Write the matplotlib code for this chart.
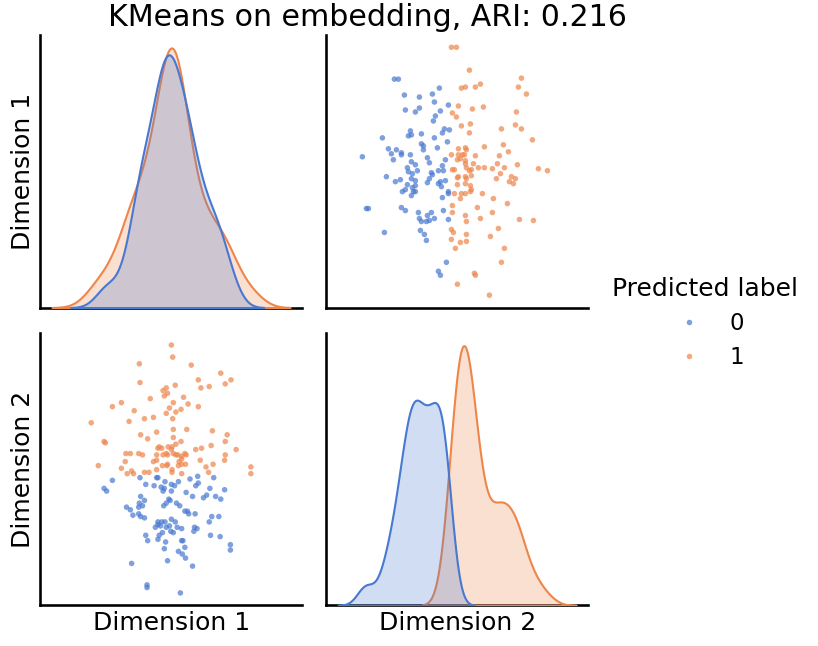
import matplotlib
matplotlib.use("Agg")
import matplotlib.pyplot as plt
import pandas as pd
import seaborn as sns

# points (arbitrary units, no ticks shown)
dim2_label0 = [93, 97, 138, 103, 118, 131, 133, 147, 104, 118,
               114, 139, 134, 132, 109, 110, 107, 120, 143, 148,
               141, 81, 133, 146, 120, 122, 136, 87, 95, 122,
               90, 100, 100, 109, 61, 92, 126, 110, 114, 128,
               144, 141, 106, 107, 116, 130, 137, 142, 85, 94,
               99, 111, 106, 110, 114, 114, 111, 112, 114, 101,
               104, 110, 126, 128, 131, 137, 139, 144, 147, 147,
               141, 65, 67, 100, 104, 117, 126, 130, 118, 120,
               125, 128, 133, 142, 147, 83, 119, 123, 125, 145,
               137, 139, 140]
dim1_label0 = [221, 221, 212, 205, 203, 206, 198, 195, 190, 192,
               188, 189, 184, 179, 169, 165, 164, 166, 171, 170,
               167, 162, 162, 158, 156, 154, 152, 151, 150, 150,
               146, 147, 145, 145, 143, 140, 142, 138, 135, 137,
               140, 134, 132, 128, 129, 127, 129, 129, 123, 118,
               120, 126, 115, 121, 119, 114, 112, 108, 108, 108,
               110, 104, 117, 121, 125, 116, 118, 119, 106, 108,
               102, 91, 91, 92, 89, 87, 84, 87, 81, 78,
               78, 79, 81, 89, 80, 67, 69, 65, 59, 37,
               28, 24, 113]

dim2_label1 = [150, 155, 168, 220, 160, 164, 174, 179, 217, 225,
               157, 171, 182, 151, 155, 215, 160, 169, 168, 200,
               214, 220, 231, 183, 202, 164, 157, 165, 161, 163,
               157, 159, 156, 150, 174, 207, 198, 164, 164, 172,
               196, 216, 165, 170, 177, 183, 191, 203, 151, 153,
               237, 246,
               156, 157, 164, 165, 170, 168, 156, 164, 169, 170,
               169, 153, 160, 164, 159, 181, 151, 151, 164, 165,
               176, 179, 192, 191, 195, 199, 210, 214, 208, 212,
               206, 218, 232, 197, 189, 203, 200, 150, 152, 150,
               165, 165, 159, 154, 173, 174, 156, 188]
dim1_label1 = [253, 253, 230, 222, 212, 213, 213, 216, 213, 206,
               194, 191, 193, 187, 183, 188, 174, 176, 167, 171,
               175, 171, 160, 153, 155, 152, 151, 150, 145, 145,
               145, 141, 140, 145, 144, 148, 144, 139, 136, 136,
               136, 135, 132, 130, 132, 132, 131, 132, 130, 130,
               131, 129,
               122, 123, 123, 121, 124, 129, 115, 116, 114, 110,
               108, 106, 106, 106, 101, 106, 94, 87, 84, 78,
               92, 81, 101, 87, 121, 126, 123, 121, 118, 116,
               96, 80, 79, 71, 63, 51, 37, 70, 67, 60,
               65, 58, 57, 51, 26, 24, 15, 4]

labels = [0, 1]

df = pd.DataFrame({
    "Dimension 1": dim1_label0 + dim1_label1,
    "Dimension 2": dim2_label0 + dim2_label1,
    "Predicted label": [labels[0]] * len(dim1_label0) + [labels[1]] * len(dim1_label1),
})

sns.set_theme(context="talk", style="white", palette="muted",
              rc={"text.color": "black", "axes.labelcolor": "black",
                  "axes.edgecolor": "black"})

g = sns.pairplot(df, hue="Predicted label", palette="muted",
                 plot_kws=dict(s=16, alpha=0.7, linewidth=0))
g.set(xticks=[], yticks=[])

fig = g.figure
fig.set_size_inches(8.18, 6.46)
fig.subplots_adjust(left=0.049, right=0.719, bottom=0.063, top=0.946,
                    wspace=0.092, hspace=0.092)
sns.move_legend(g, "center", bbox_to_anchor=(0.862, 0.5), frameon=False)
fig.suptitle("KMeans on embedding, ARI: 0.216", x=0.449, y=0.995, va="top")

fig.savefig("out.png", dpi=100)
